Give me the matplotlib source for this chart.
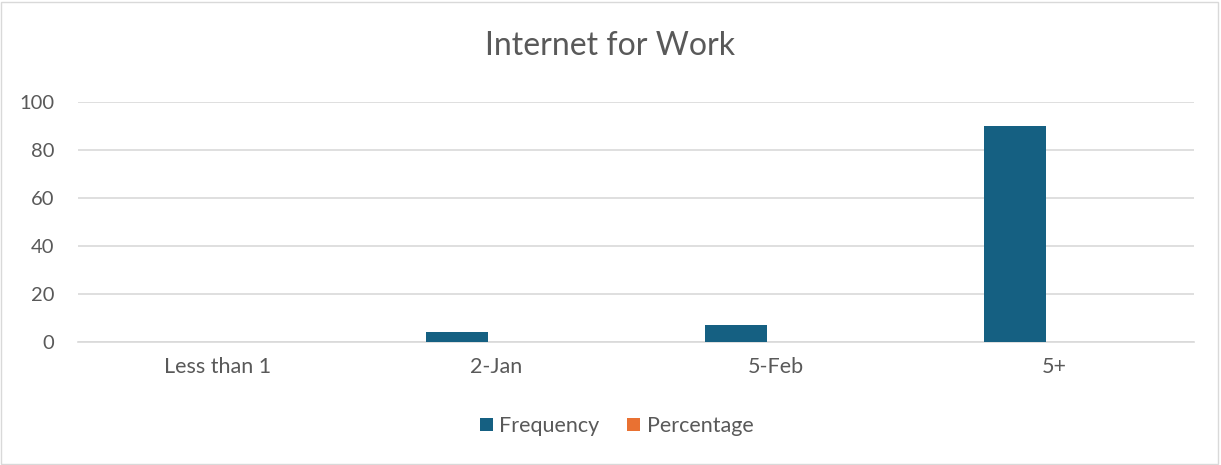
import numpy as np
import matplotlib.pyplot as plt
from matplotlib.patches import Rectangle

categories = ['Less than 1', '2-Jan', '5-Feb', '5+']
frequency = [0, 4, 7, 90]
percentage = [0, 0, 0, 0]

plt.rcParams['font.family'] = ['Lato', 'DejaVu Sans']

fig = plt.figure(figsize=(12.21, 4.65), dpi=100)
ax = fig.add_axes([78 / 1221, 1 - 342 / 465, 1116 / 1221, 240 / 465])

x = np.arange(len(categories))
w = 0.222
ax.bar(x - 0.142, frequency, w, color='#156082', label='Frequency', zorder=3)
ax.bar(x + 0.08, percentage, w, color='#E97132', label='Percentage', zorder=3)

ax.set_xlim(-0.5, len(categories) - 0.5)
ax.set_ylim(0, 100)
ax.set_yticks(range(0, 101, 20))
ax.set_xticks(x)
ax.set_xticklabels(categories)
ax.yaxis.grid(True, color='#D9D9D9', linewidth=1.2, zorder=0)
for s in ['top', 'right', 'left']:
    ax.spines[s].set_visible(False)
ax.spines['bottom'].set_color('#D9D9D9')
ax.spines['bottom'].set_linewidth(1.2)
ax.tick_params(axis='x', length=0, labelsize=15.5, colors='#595959', pad=11)
ax.tick_params(axis='y', length=0, labelsize=14.5, colors='#595959', pad=17)

fig.text(0.5, 1 - 46 / 465, 'Internet for Work', ha='center', va='center',
         fontsize=23, color='#595959')

fig.legend(loc='center', bbox_to_anchor=(0.505, 1 - 426 / 465), ncol=2,
           frameon=False, fontsize=15.5, labelcolor='#595959',
           handlelength=0.6, handleheight=0.6, handletextpad=0.3, columnspacing=1.3)

fig.patches.append(Rectangle((0.5 / 1221, 1.5 / 465), 1217 / 1221, 461 / 465,
                             transform=fig.transFigure, fill=False,
                             edgecolor='#D9D9D9', linewidth=1))

fig.savefig('out.png', dpi=100)
